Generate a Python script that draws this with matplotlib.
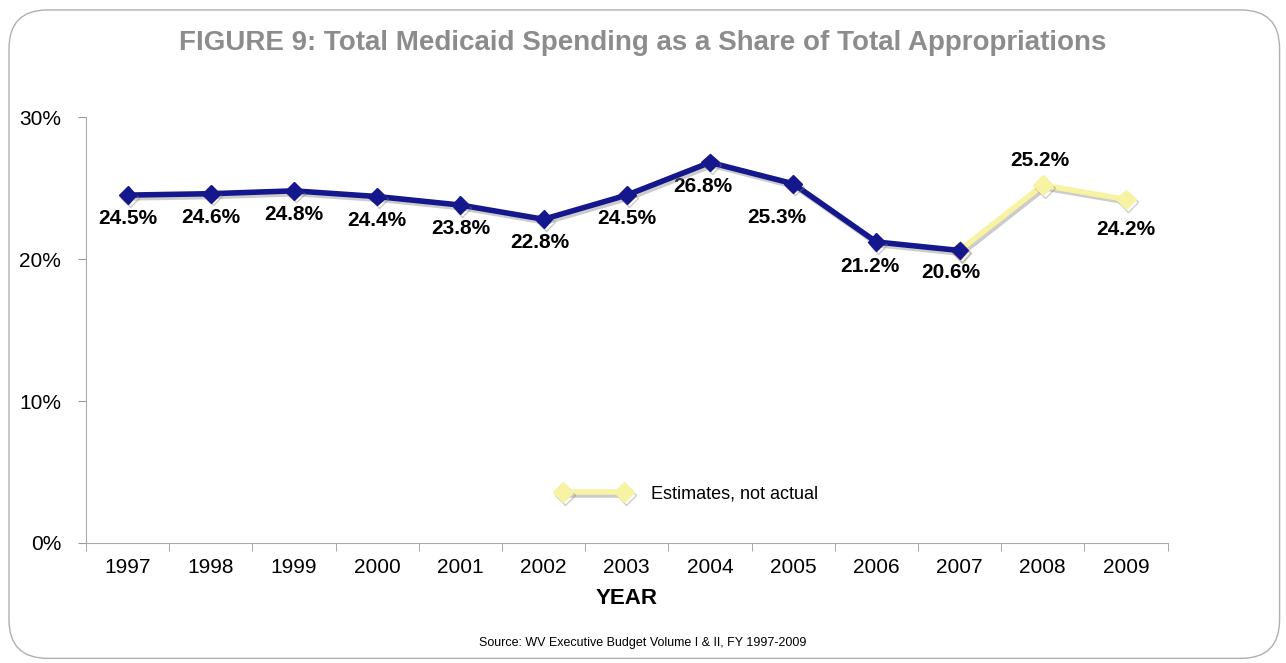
import matplotlib.pyplot as plt
import matplotlib.patheffects as pe
from matplotlib.patches import FancyBboxPatch

years = ["1997", "1998", "1999", "2000", "2001", "2002", "2003",
         "2004", "2005", "2006", "2007", "2008", "2009"]
share = [24.5, 24.6, 24.8, 24.4, 23.8, 22.8, 24.5, 26.8, 25.3, 21.2, 20.6, 25.2, 24.2]
n_actual = 11  # 1997-2007 actual, 2008-2009 estimates

# label offsets in points (dx, dy), as placed in the original
label_offsets = {"2004": (-5, -17), "2005": (-12, -24), "2006": (-5, -18),
                 "2007": (-6, -16), "2008": (-2, 18), "2009": (0, -22),
                 "2002": (-3, -17)}

navy = "#15178c"
pale = "#f7f3a2"

plt.rcParams['font.family'] = ['Liberation Sans', 'DejaVu Sans']

fig = plt.figure(figsize=(12.86, 6.63), dpi=100)
ax = fig.add_axes([0.0669, 0.181, 0.841, 0.6425])

# rounded frame around the whole figure
frame = FancyBboxPatch((0.007, 0.007), 0.988, 0.978, boxstyle="round,pad=0,rounding_size=0.03",
                       transform=fig.transFigure, fill=False, edgecolor="#b0b0b0", linewidth=1,
                       mutation_aspect=1286 / 663)
fig.patches.append(frame)

x = list(range(len(years)))
shadow = [pe.SimpleLineShadow(offset=(1.5, -2), shadow_color="gray", alpha=0.4), pe.Normal()]

ax.plot(x[n_actual - 1:], share[n_actual - 1:], color=pale, lw=4, marker="D", ms=10,
        label="Estimates, not actual", path_effects=shadow, zorder=3)
ax.plot(x[:n_actual], share[:n_actual], color=navy, lw=4, marker="D", ms=9,
        path_effects=shadow, zorder=4)

for xi, yr, v in zip(x, years, share):
    dx, dy = label_offsets.get(yr, (0, -17))
    ax.annotate(f"{v:.1f}%", (xi, v), xytext=(dx, dy), textcoords="offset points",
                ha="center", va="center", fontsize=15, fontweight="bold")

ax.set_xlim(-0.5, len(years) - 0.5)
ax.set_ylim(0, 30)
ax.set_yticks([0, 10, 20, 30])
ax.set_yticklabels(["0%", "10%", "20%", "30%"], fontsize=15)
ax.set_xticks(x)
ax.set_xticklabels(years, fontsize=15)
ax.set_xticks([i - 0.5 for i in range(len(years) + 1)], minor=True)
ax.tick_params(axis="x", which="major", length=0, pad=11)
ax.tick_params(axis="x", which="minor", length=6, color="#999999")
ax.tick_params(axis="y", length=6, color="#999999", pad=12)

for s in ["top", "right"]:
    ax.spines[s].set_visible(False)
for s in ["left", "bottom"]:
    ax.spines[s].set_color("#aaaaaa")

ax.set_xlabel("YEAR", fontsize=16, fontweight="bold", labelpad=8)

fig.text(0.5, 0.935, "FIGURE 9: Total Medicaid Spending as a Share of Total Appropriations",
         ha="center", va="center", fontsize=20, fontweight="bold", color="#8c8c8c")
fig.text(0.5, 0.03, "Source: WV Executive Budget Volume I & II, FY 1997-2009",
         ha="center", va="center", fontsize=9)

ax.legend(loc="center", bbox_to_anchor=(0.535, 0.255), bbox_transform=fig.transFigure,
          frameon=False, numpoints=2, handlelength=4, handletextpad=1.2, fontsize=13)

fig.savefig("out.png", dpi=100)
